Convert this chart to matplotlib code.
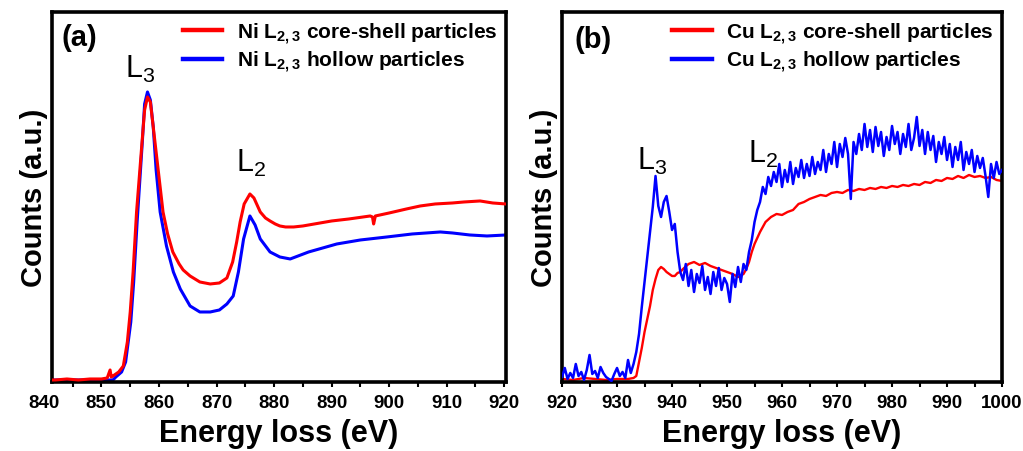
import numpy as np
import matplotlib
matplotlib.use('Agg')
import matplotlib.pyplot as plt
from matplotlib.ticker import MultipleLocator

plt.rcParams['font.family'] = 'Liberation Sans'
plt.rcParams['mathtext.fontset'] = 'custom'
plt.rcParams['mathtext.rm'] = 'Liberation Sans'
plt.rcParams['mathtext.bf'] = 'Liberation Sans:bold'

# ---- panel (a): Ni L2,3 edge ----
ni_e_red = [840, 842, 844, 846, 848, 850, 851.0, 851.5, 851.7, 852, 853, 853.8, 854.5, 855.0,
            855.5, 856.1, 857.0, 857.5, 858.0, 858.5, 859.0, 859.7, 860.7, 861.5, 862.4, 863.5,
            864.2, 865.4, 867.1, 868.9, 870.5, 871.8, 872.8, 873.5, 874.1, 874.8, 875.8, 876.5,
            877.6, 878.5, 879.3, 880.2, 881.0, 882.0, 883.4, 885, 887, 890, 893, 896.7, 897.1,
            897.3, 897.6, 900, 903, 905.4, 908, 911, 913, 915.8, 918, 920.3]
ni_red = [2, 2, 3, 2, 3, 3, 4, 12, 5, 6, 10, 16, 40, 70,
          110, 170, 236, 272, 285, 280, 255, 220, 170, 148, 130, 118,
          112, 106, 100, 98, 99, 104, 120, 140, 160, 178, 188, 184,
          170, 164, 161, 158, 156, 155, 155, 156, 158, 161, 163, 166, 165,
          158, 166, 169, 173, 176, 178, 179, 180, 181, 179, 178]

ni_e_blue = [840, 842, 844, 846, 848, 850, 852, 852.5, 853.5, 854.2, 855.1, 855.6, 856.2, 857.1,
             857.5, 858.0, 858.5, 859.0, 859.5, 860.2, 861.3, 862.5, 863.7, 865.4, 867.1, 868.9,
             870.5, 871.8, 872.9, 873.8, 874.7, 875.8, 876.7, 877.6, 879.3, 881.0, 882.8, 886,
             890.9, 895, 899.6, 904, 908.9, 911, 914, 917, 920.3]
ni_blue = [2, 2, 2, 2, 2, 2, 2, 5, 10, 20, 60, 100, 160, 240,
           278, 290, 282, 255, 212, 170, 136, 110, 93, 76, 70, 70,
           72, 78, 86, 110, 143, 166, 157, 143, 130, 125, 123, 130,
           138, 142, 145, 148, 150, 149, 147, 146, 147]

# ---- panel (b): Cu L2,3 edge ----
cu_e_blue = np.arange(920, 1000.01, 0.5)
cu_blue = [5, 14, 3, 9, 4, 18, 6, 10, 2, 12, 27, 8, 11, 4, 15, 9, 5, 3, 1, 8,
           14, 6, 10, 4, 22, 9, 18, 30, 48, 75, 100, 125, 150, 175, 206, 176, 165, 180, 186, 170,
           152, 158, 130, 110, 102, 118, 96, 112, 90, 108, 99, 116, 92, 105, 88, 110, 96, 114, 92, 104,
           98, 80, 108, 95, 115, 100, 118, 112, 130, 142, 160, 172, 180, 195, 188, 205, 196, 210, 200, 218,
           195, 212, 200, 220, 198, 214, 205, 222, 204, 218, 206, 225, 208, 220, 212, 232, 210, 228, 218, 240,
           215, 238, 225, 244, 228, 183, 240, 228, 248, 232, 258, 235, 252, 230, 255, 236, 250, 226, 245, 232,
           256, 238, 250, 228, 248, 235, 258, 232, 244, 265, 236, 252, 228, 250, 232, 246, 220, 240, 228, 245,
           222, 238, 215, 235, 222, 240, 212, 230, 218, 232, 210, 226, 214, 224, 206, 185, 218, 204, 220, 208,
           212]

cu_e_red = [920, 922, 924, 926, 928, 930, 932, 933, 933.5, 934.0, 934.5, 935.0, 935.5, 936.0,
            936.5, 937.0, 937.5, 938.0, 938.5, 939.0, 939.5, 940.0, 940.5, 941.0, 941.5, 942, 943,
            944, 945, 946, 947, 948, 949, 950, 951, 952, 953, 953.5, 954, 954.5, 955, 956, 957,
            958, 959, 960, 961, 962, 963, 964, 965, 966, 967, 968, 969, 970, 971, 972, 973, 974,
            975, 976, 977, 978, 979, 980, 981, 982, 983, 984, 985, 986, 987, 988, 989, 990, 991,
            992, 993, 994, 995, 996, 997, 998, 999, 1000]
cu_red = [3, 2, 4, 3, 2, 3, 3, 4, 6, 20, 34, 50, 63, 76,
          92, 103, 112, 115, 113, 110, 108, 106, 106, 109, 110, 113, 118,
          120, 117, 119, 116, 114, 112, 110, 108, 105, 108, 113, 120, 130, 138, 150, 160,
          165, 168, 167, 170, 172, 178, 180, 183, 185, 187, 186, 189, 190, 189, 192, 191, 193,
          192, 194, 193, 195, 194, 196, 195, 197, 196, 198, 197, 200, 199, 202, 201, 204, 203,
          206, 204, 207, 205, 206, 204, 205, 202, 201]

fig = plt.figure(figsize=(10.23, 4.52), dpi=100)
ax1 = fig.add_axes([0.0508, 0.1527, 0.4438, 0.8186])
ax2 = fig.add_axes([0.5494, 0.1527, 0.4301, 0.8186])

ax1.plot(ni_e_red, ni_red, color='#ff0000', lw=2.2, label=r'Ni L$_\mathregular{2,3}$ core-shell particles', zorder=3)
ax1.plot(ni_e_blue, ni_blue, color='#0000ff', lw=2.2, label=r'Ni L$_\mathregular{2,3}$ hollow particles', zorder=2)
ax1.set_xlim(841.4, 920.3)

ax2.plot(cu_e_red, cu_red, color='#ff0000', lw=1.7, label=r'Cu L$_\mathregular{2,3}$ core-shell particles', zorder=2)
ax2.plot(cu_e_blue, cu_blue, color='#0000ff', lw=1.8, label=r'Cu L$_\mathregular{2,3}$ hollow particles', zorder=3)
ax2.set_xlim(920, 1000)

for ax in (ax1, ax2):
    ax.set_ylim(0, 370)
    ax.set_yticks([])
    ax.xaxis.set_major_locator(MultipleLocator(10))
    ax.xaxis.set_minor_locator(MultipleLocator(5))
    ax.tick_params(axis='x', which='both', direction='out', length=3.5, width=1.5, pad=5.5,
                   labelsize=13.5)
    for lab in ax.get_xticklabels():
        lab.set_fontweight('bold')
    for sp in ax.spines.values():
        sp.set_linewidth(2.6)
    ax.set_xlabel('Energy loss (eV)', fontsize=22, fontweight='bold', labelpad=5)
    ax.set_ylabel('Counts (a.u.)', fontsize=21, fontweight='bold', labelpad=3)
    leg = ax.legend(loc='upper right', frameon=False, prop={'size': 15, 'weight': 'bold'},
                    handlelength=1.9, handletextpad=0.7, labelspacing=0.15,
                    borderaxespad=0.1, borderpad=0.3)
    for ln in leg.get_lines():
        ln.set_linewidth(3.2)

# the 840 label sits just left of the axis start
ax1.annotate('840', xy=(840, 0), xycoords=('data', 'axes fraction'), xytext=(0, -9),
             textcoords='offset points', ha='center', va='top', fontsize=13.5,
             fontweight='bold', annotation_clip=False)

ax1.text(0.022, 0.97, '(a)', transform=ax1.transAxes, fontsize=21, fontweight='bold', va='top')
ax2.text(0.028, 0.965, '(b)', transform=ax2.transAxes, fontsize=21, fontweight='bold', va='top')

ax1.text(854.1, 305, r'L$_\mathregular{3}$', fontsize=22, va='baseline')
ax1.text(873.4, 211, r'L$_\mathregular{2}$', fontsize=22, va='baseline')
ax2.text(933.6, 213, r'L$_\mathregular{3}$', fontsize=22, va='baseline')
ax2.text(953.8, 220, r'L$_\mathregular{2}$', fontsize=22, va='baseline')

fig.savefig('out.png', dpi=100)
